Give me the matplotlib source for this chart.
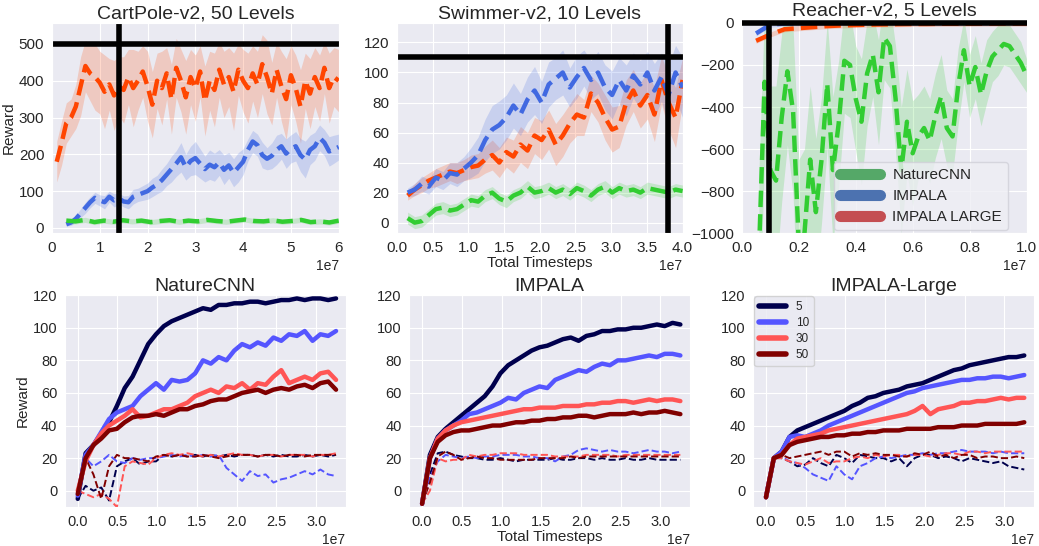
import numpy as np
import matplotlib.pyplot as plt
import seaborn as sns
from matplotlib.ticker import MultipleLocator
from matplotlib.lines import Line2D

sns.set_style("darkgrid")
plt.rcParams["font.family"] = ["Liberation Sans", "DejaVu Sans"]

# ---------- top row: procedurally generated control tasks ----------
# CartPole-v2, 50 levels
cart_impala_large = [180, 230, 285, 300, 330, 385, 440, 420, 410, 395,
                     370, 390, 360, 385, 375, 410, 380, 400, 425, 385,
                     335, 400, 380, 420, 350, 435, 400, 355, 410, 380,
                     425, 345, 400, 375, 430, 390, 410, 370, 430, 400,
                     380, 420, 390, 445, 410, 365, 430, 385, 350, 415,
                     380, 330, 400, 365, 410, 380, 435, 380, 410, 400]
cart_impala_large_sd = [55, 60, 55, 50, 60, 80, 70, 75, 90, 85,
                        100, 70, 95, 80, 90, 75, 105, 80, 70, 95,
                        90, 75, 100, 70, 95, 80, 85, 100, 75, 90,
                        70, 95, 80, 100, 75, 90, 80, 105, 70, 85,
                        95, 75, 90, 80, 100, 85, 75, 95, 110, 80,
                        90, 100, 75, 95, 80, 90, 70, 95, 80, 85]
cart_impala = [10, 15, 25, 40, 55, 70, 82, 75, 70, 85,
               75, 80, 72, 70, 85, 90, 95, 100, 110, 118,
               130, 145, 160, 175, 192, 165, 182, 190, 175, 160,
               172, 165, 178, 158, 170, 150, 165, 180, 212, 235,
               225, 198, 188, 196, 212, 222, 202, 215, 222, 198,
               186, 212, 222, 245, 232, 208, 214, 220]
cart_impala_sd = [5, 8, 10, 12, 15, 15, 15, 15, 18, 15,
                  18, 15, 15, 18, 20, 18, 20, 22, 25, 25,
                  30, 30, 35, 35, 40, 35, 40, 45, 40, 35,
                  40, 38, 35, 40, 35, 38, 40, 35, 30, 30,
                  30, 35, 30, 35, 40, 35, 40, 38, 40, 45,
                  50, 40, 38, 35, 35, 40, 38, 35]
cart_nature = [20, 18, 22, 16, 20, 17, 21, 18, 20, 16, 19, 21, 17, 20, 18,
               22, 19, 17, 20, 23, 19, 18, 21, 17, 19, 22, 16, 18, 15, 20]
cart_nature_sd = 7

# Swimmer-v2, 10 levels
swim_impala = [20, 22, 26, 24, 30, 28, 33, 32, 36, 40,
               45, 55, 62, 65, 70, 78, 72, 82, 88, 80,
               92, 96, 100, 90, 97, 103, 95, 100, 90, 85,
               95, 88, 98, 92, 100, 88, 97, 85, 100, 90]
swim_impala_sd = [3, 4, 5, 5, 6, 6, 7, 8, 8, 10,
                  12, 14, 16, 16, 15, 15, 14, 15, 16, 14,
                  15, 14, 15, 13, 14, 12, 13, 14, 15, 16,
                  15, 17, 15, 16, 14, 18, 16, 20, 18, 20]
swim_impala_large = [18, 22, 25, 28, 30, 32, 34, 33, 35, 37,
                     38, 42, 45, 40, 47, 44, 52, 48, 58, 55,
                     62, 52, 58, 66, 72, 70, 86, 80, 70, 62,
                     64, 80, 88, 78, 85, 72, 95, 80, 70, 95]
swim_impala_large_sd = [3, 4, 5, 5, 6, 6, 6, 7, 7, 8,
                        8, 9, 10, 10, 10, 11, 12, 12, 12, 13,
                        13, 14, 14, 13, 14, 12, 12, 13, 15, 15,
                        14, 15, 14, 15, 16, 18, 16, 18, 20, 15]
swim_nature = [3, 0, 1, 5, 9, 10, 8, 9, 12, 15,
               14, 18, 20, 16, 14, 18, 20, 24, 20, 21,
               23, 20, 22, 19, 23, 21, 18, 22, 24, 20,
               23, 21, 22, 20, 23, 22, 21, 20, 22, 21]
swim_nature_sd = 4

# Reacher-v2, 5 levels
reach_impala = [-50, -8, -3, -2, -2, -1, -1, -1, -1, -1,
                -1, -1, -1, -1, -1, -1, -1, -1, -1, -1]
reach_impala_large = [-85, -55, -30, -25, -20, -15, -12, -10, -8, -7,
                      -6, -5, -5, -4, -4, -4, -3, -3, -3, -3]
reach_band = 12
reach_nature = [-1100, -280, -700, -750, -450, -230, -420, -1050, -1000, -650,
                -900, -650, -290, -700, -480, -180, -200, -360, -470, -240,
                -150, -330, -70, -110, -360, -700, -470, -620, -540, -500,
                -560, -440, -350, -500, -540, -300, -130, -300, -210, -340,
                -230, -160, -130, -100, -110, -150, -190, -250]
reach_nature_sd = [400, 350, 400, 450, 400, 350, 400, 400, 400, 350,
                   350, 300, 300, 350, 300, 250, 250, 250, 300, 250,
                   200, 250, 200, 200, 250, 300, 250, 250, 200, 200,
                   200, 200, 200, 180, 180, 180, 150, 150, 150, 150,
                   150, 120, 120, 100, 100, 100, 100, 80]

# ---------- bottom row: train (solid) / test (dashed) per level count ----------
level_counts = ["5", "10", "30", "50"]
level_colors = ["#00004d", "#5555ff", "#ff5555", "#800000"]

nature_train = [
    [-5, 23, 28, 35, 42, 52, 63, 70, 80, 90, 96, 101, 104, 106, 108, 110, 112,
     111, 114, 114, 115, 115, 116, 116, 115, 116, 117, 117, 118, 117, 118, 118, 117, 118],
    [-3, 22, 28, 36, 44, 48, 50, 52, 58, 62, 66, 62, 68, 67, 68, 72, 80,
     78, 82, 80, 86, 90, 88, 91, 89, 94, 92, 96, 95, 98, 92, 96, 95, 98],
    [0, 18, 28, 35, 40, 43, 46, 50, 45, 46, 48, 50, 50, 52, 54, 58, 60,
     62, 60, 64, 63, 66, 62, 66, 65, 70, 74, 66, 68, 70, 68, 72, 73, 68],
    [-2, 20, 28, 32, 37, 38, 42, 45, 46, 46, 47, 46, 48, 50, 50, 52, 53,
     55, 56, 56, 58, 60, 61, 62, 60, 62, 63, 62, 64, 65, 63, 66, 67, 62],
]
nature_test = [
    [-5, 3, 0, 2, -6, 15, 18, 20, 16, 18, 18, 22, 21, 22, 21, 22, 21,
     22, 21, 22, 21, 22, 22, 21, 22, 21, 22, 21, 21, 22, 21, 22, 21, 22],
    [-3, 20, 15, 18, 22, 18, 17, 20, 19, 20, 20, 21, 22, 21, 22, 21, 22,
     21, 22, 14, 10, 6, 12, 9, 10, 5, 7, 8, 10, 12, 10, 13, 10, 9],
    [0, -2, -4, -2, -5, -10, 15, 18, 17, 16, 20, 22, 23, 22, 23, 22, 21,
     22, 21, 22, 23, 22, 22, 21, 22, 22, 21, 22, 22, 22, 21, 22, 22, 23],
    [-2, 20, 10, -5, 15, 22, 20, 20, 19, 18, 21, 22, 21, 22, 21, 21, 22,
     21, 20, 21, 22, 22, 22, 21, 22, 22, 21, 22, 22, 21, 22, 22, 22, 22],
]

impala_train = [
    [-8, 22, 33, 38, 42, 46, 50, 54, 58, 64, 72, 77, 80, 83, 86, 88, 89,
     91, 93, 94, 92, 95, 96, 98, 98, 99, 99, 100, 100, 101, 102, 101, 103, 102],
    [-8, 20, 32, 37, 40, 43, 47, 48, 50, 52, 54, 57, 56, 60, 62, 64, 63,
     68, 70, 72, 74, 73, 76, 78, 77, 80, 80, 81, 82, 83, 82, 84, 84, 83],
    [-8, 20, 32, 37, 40, 42, 43, 44, 45, 46, 47, 48, 49, 50, 50, 51, 51,
     51, 52, 52, 52, 53, 53, 54, 54, 55, 55, 54, 55, 56, 55, 56, 56, 55],
    [-8, 20, 30, 34, 36, 37, 37, 38, 39, 40, 40, 41, 42, 42, 43, 43, 44,
     44, 45, 45, 46, 46, 45, 46, 47, 47, 47, 48, 47, 48, 48, 49, 48, 47],
]
impala_test = [
    [-8, 10, 23, 24, 22, 21, 20, 20, 19, 19, 20, 19, 18, 19, 19, 19, 19,
     20, 19, 19, 20, 20, 19, 20, 19, 19, 20, 19, 19, 20, 19, 19, 19, 19],
    [-8, 8, 18, 22, 21, 20, 21, 20, 21, 21, 22, 22, 22, 21, 21, 20, 20,
     18, 21, 22, 25, 26, 25, 24, 25, 24, 24, 23, 24, 25, 24, 24, 23, 24],
    [-8, 0, 20, 18, 19, 19, 22, 21, 22, 22, 23, 23, 23, 22, 22, 22, 22,
     21, 21, 21, 21, 22, 22, 22, 22, 21, 22, 22, 22, 22, 22, 22, 22, 22],
    [-8, 5, 21, 24, 22, 19, 20, 21, 20, 20, 19, 19, 19, 19, 19, 20, 20,
     20, 20, 21, 20, 21, 21, 21, 21, 21, 21, 21, 21, 21, 21, 21, 21, 21],
]

large_train = [
    [-4, 20, 24, 33, 37, 39, 41, 43, 45, 47, 49, 52, 54, 57, 58, 60, 61,
     62, 64, 65, 66, 68, 70, 72, 74, 75, 77, 78, 79, 80, 81, 82, 82, 83],
    [-4, 20, 24, 33, 34, 33, 35, 37, 40, 42, 44, 46, 48, 50, 52, 54, 56,
     58, 60, 61, 63, 64, 65, 66, 67, 68, 68, 69, 69, 70, 70, 69, 70, 71],
    [-4, 20, 22, 28, 32, 33, 34, 35, 37, 38, 39, 40, 41, 42, 43, 44, 45,
     46, 47, 49, 52, 47, 50, 51, 52, 54, 54, 55, 55, 56, 57, 56, 57, 57],
    [-4, 20, 22, 28, 30, 31, 32, 33, 33, 34, 34, 35, 35, 36, 36, 37, 37,
     37, 38, 38, 38, 38, 39, 39, 39, 40, 40, 40, 41, 41, 41, 41, 41, 42],
]
large_test = [
    [-4, 20, 20, 18, 15, 16, 20, 17, 15, 22, 20, 17, 22, 21, 20, 20, 18,
     20, 15, 20, 22, 22, 20, 21, 20, 18, 20, 19, 18, 17, 18, 15, 14, 13],
    [-4, 20, 21, 18, 17, 14, 10, 8, 6, 15, 10, 7, 15, 17, 20, 21, 20,
     21, 22, 22, 23, 22, 23, 23, 24, 25, 24, 24, 24, 23, 24, 23, 23, 23],
    [-4, 20, 20, 18, 17, 16, 18, 20, 17, 18, 18, 20, 21, 20, 22, 21, 22,
     22, 21, 22, 22, 21, 22, 23, 23, 22, 24, 24, 23, 24, 24, 24, 24, 24],
    [-4, 20, 22, 20, 21, 22, 23, 24, 22, 24, 24, 21, 23, 22, 23, 22, 22,
     21, 21, 23, 22, 24, 21, 22, 20, 22, 22, 20, 21, 21, 20, 20, 21, 20],
]

ORANGE = "#ff4500"
BLUE = "#4169e1"
GREEN = "#32cd32"


def band_curve(ax, start, end, vals, sd, color):
    vals = np.asarray(vals, dtype=float)
    sd = np.asarray(sd, dtype=float)
    x = np.linspace(start, end, len(vals))
    ax.fill_between(x, vals - sd, vals + sd, color=color, alpha=0.2, lw=0)
    ax.plot(x, vals, "--", color=color, lw=3.2)


fig = plt.figure(figsize=(10.39, 5.46), dpi=100)

# top row
ax1 = fig.add_axes([0.050, 0.573, 0.276, 0.385])
band_curve(ax1, 0.1e7, 6e7, cart_impala_large, cart_impala_large_sd, ORANGE)
band_curve(ax1, 0.3e7, 6e7, cart_impala, cart_impala_sd, BLUE)
band_curve(ax1, 0.3e7, 6e7, cart_nature, cart_nature_sd, GREEN)
ax1.axhline(500, color="k", lw=4)
ax1.axvline(1.4e7, color="k", lw=4)
ax1.set_xlim(0, 6e7)
ax1.set_ylim(-14, 557)
ax1.xaxis.set_major_locator(MultipleLocator(1e7))
ax1.yaxis.set_major_locator(MultipleLocator(100))
ax1.set_title("CartPole-v2, 50 Levels", fontsize=14, pad=3)
ax1.set_ylabel("Reward", fontsize=11, labelpad=2)

ax2 = fig.add_axes([0.382, 0.573, 0.275, 0.385])
band_curve(ax2, 0.15e7, 4e7, swim_impala_large, swim_impala_large_sd, ORANGE)
band_curve(ax2, 0.15e7, 4e7, swim_impala, swim_impala_sd, BLUE)
band_curve(ax2, 0.15e7, 4e7, swim_nature, swim_nature_sd, GREEN)
ax2.axhline(110, color="k", lw=4)
ax2.axvline(3.8e7, color="k", lw=4)
ax2.set_xlim(0, 4e7)
ax2.set_ylim(-7, 133)
ax2.xaxis.set_major_locator(MultipleLocator(0.5e7))
ax2.yaxis.set_major_locator(MultipleLocator(20))
ax2.set_title("Swimmer-v2, 10 Levels", fontsize=14, pad=3)
ax2.set_xlabel("Total Timesteps", fontsize=11, labelpad=1)

ax3 = fig.add_axes([0.714, 0.573, 0.274, 0.385])
band_curve(ax3, 0.06e7, 1e7, reach_nature, reach_nature_sd, GREEN)
band_curve(ax3, 0.05e7, 1e7, reach_impala, reach_band, BLUE)
band_curve(ax3, 0.05e7, 1e7, reach_impala_large, reach_band, ORANGE)
ax3.axhline(0, color="k", lw=4, clip_on=False, solid_capstyle="butt", zorder=3)
ax3.axvline(0.095e7, color="k", lw=4)
ax3.set_xlim(0, 1e7)
ax3.set_ylim(-1000, 0)
ax3.xaxis.set_major_locator(MultipleLocator(0.2e7))
ax3.yaxis.set_major_locator(MultipleLocator(200))
ax3.set_title("Reacher-v2, 5 Levels", fontsize=14, pad=5)
algo_handles = [Line2D([], [], color=c, lw=8, solid_capstyle="round")
                for c in ["#55a868", "#4c72b0", "#c44e52"]]
leg = ax3.legend(algo_handles, ["NatureCNN", "IMPALA", "IMPALA LARGE"],
                 loc="lower right", bbox_to_anchor=(0.935, 0.015),
                 fontsize=11, frameon=True, handlelength=2.6,
                 borderaxespad=0, labelspacing=0.45)
leg.get_frame().set_facecolor("#eeeef4")
leg.get_frame().set_edgecolor("#d0d0d8")

for ax in (ax1, ax2, ax3):
    ax.tick_params(labelsize=11, pad=2)
    ax.xaxis.get_offset_text().set_fontsize(10)

# bottom row
bottom_x = np.linspace(0, 3.25e7, 34)
panels = [("NatureCNN", nature_train, nature_test, 0.0626),
          ("IMPALA", impala_train, impala_test, 0.394),
          ("IMPALA-Large", large_train, large_test, 0.725)]
bottom_axes = []
for title, train, test, left in panels:
    ax = fig.add_axes([left, 0.0714, 0.270, 0.388])
    for vals, color in zip(test, level_colors):
        ax.plot(bottom_x, vals, "--", color=color, lw=1.4)
    for vals, color in zip(train, level_colors):
        ax.plot(bottom_x, vals, "-", color=color, lw=3.2)
    ax.set_xlim(-0.16e7, 3.37e7)
    ax.set_ylim(-10, 120)
    ax.xaxis.set_major_locator(MultipleLocator(0.5e7))
    ax.yaxis.set_major_locator(MultipleLocator(20))
    ax.tick_params(labelsize=10.5, pad=2)
    ax.xaxis.get_offset_text().set_fontsize(10)
    ax.set_title(title, fontsize=14, pad=3)
    bottom_axes.append(ax)

bottom_axes[0].set_ylabel("Reward", fontsize=11, labelpad=2)
bottom_axes[1].set_xlabel("Total Timesteps", fontsize=11, labelpad=1)
level_handles = [Line2D([], [], color=c, lw=4) for c in level_colors]
lg = bottom_axes[2].legend(level_handles, level_counts, loc="upper left",
                           fontsize=8.5, frameon=True, handlelength=2.3,
                           borderaxespad=0.1, labelspacing=0.35)
lg.get_frame().set_facecolor("#eaeaf2")
lg.get_frame().set_edgecolor("#cccccc")

fig.savefig("out.png", dpi=100)
